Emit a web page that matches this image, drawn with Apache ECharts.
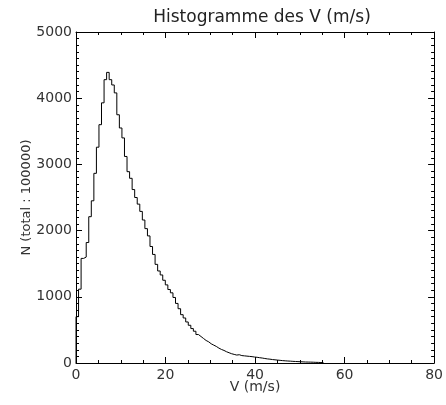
<!DOCTYPE html>
<html>
<head>
<meta charset="utf-8">
<script src="https://cdn.jsdelivr.net/npm/echarts@6/dist/echarts.min.js"></script>
<style>
html,body{margin:0;padding:0;background:#fff;}
#chart{width:446px;height:405px;}
</style>
</head>
<body>
<div id="chart"></div>
<script>
// Histogram of V (m/s), bin width ~0.57 m/s, starting at 0
const binWidth = 0.57;
const counts = [
  700, 1115, 1580, 1600, 1820, 2210, 2450, 2865, 3260, 3600,
  3930, 4280, 4390, 4280, 4200, 4080, 3750, 3550, 3400, 3120,
  2890, 2790, 2620, 2500, 2400, 2290, 2160, 2030, 1920, 1760,
  1640, 1490, 1390, 1330, 1250, 1180, 1110, 1060, 990, 900,
  820, 730, 680, 620, 570, 520, 480, 430, 400, 370,
  340, 320, 290, 270, 250, 225, 205, 190, 170, 155,
  140, 130, 120, 125, 112, 108, 104, 100, 96, 90,
  86, 80, 75, 68, 62, 58, 52, 48, 44, 40,
  36, 33, 30, 28, 25, 23, 21, 19, 17, 15,
  14, 13, 12, 10, 9, 7, 5
];
const xTicks = [0, 20, 40, 60, 80];
const yTicks = [0, 1000, 2000, 3000, 4000, 5000];
const titleText = 'Histogramme des V (m/s)';
const xName = 'V (m/s)';
const yName = 'N (total : 100000)';

// build step points at bin edges
const pts = [[0, 0]];
counts.forEach((c, k) => pts.push([k * binWidth, c]));
pts.push([counts.length * binWidth, counts[counts.length - 1]]);
pts.push([counts.length * binWidth, 0]);

const font = 'DejaVu Sans';
const lineCol = '#000';
const txtCol = '#333';
function axisBase(showLabels) {
  return {
    axisLine: { show: true, onZero: false, lineStyle: { color: lineCol, width: 1 } },
    axisTick: { show: true, inside: true, length: 6, lineStyle: { color: lineCol } },
    splitLine: { show: false },
    axisLabel: { show: showLabels }
  };
}
const plain = v => String(v);

const chart = echarts.init(document.getElementById('chart'), null, { renderer: 'canvas' });
chart.setOption({
  backgroundColor: '#fff',
  animation: false,
  title: {
    text: titleText,
    left: 257, top: 4, textAlign: 'center',
    textStyle: { fontFamily: font, fontSize: 17, fontWeight: 'normal', color: '#222' }
  },
  grid: { left: 76, right: 7, top: 32, bottom: 42, containLabel: false },
  xAxis: [
    Object.assign(axisBase(true), {
      type: 'value', position: 'bottom', min: xTicks[0], max: xTicks[xTicks.length - 1], interval: 20,
      name: xName, nameLocation: 'middle', nameGap: 17, nameMoveOverlap: false,
      nameTextStyle: { fontFamily: font, fontSize: 14, color: txtCol },
      minorTick: { show: true, splitNumber: 4, length: 3, lineStyle: { color: lineCol } },
      axisLabel: { show: true, color: txtCol, fontFamily: font, fontSize: 14, margin: 5, formatter: plain }
    }),
    Object.assign(axisBase(false), {
      type: 'value', position: 'top', min: xTicks[0], max: xTicks[xTicks.length - 1], interval: 20,
      minorTick: { show: true, splitNumber: 4, length: 3, lineStyle: { color: lineCol } }
    })
  ],
  yAxis: [
    Object.assign(axisBase(true), {
      type: 'value', position: 'left', min: yTicks[0], max: yTicks[yTicks.length - 1], interval: 1000,
      name: yName, nameLocation: 'middle', nameGap: 43, nameRotate: 90, nameMoveOverlap: false,
      nameTextStyle: { fontFamily: font, fontSize: 13, color: txtCol },
      minorTick: { show: true, splitNumber: 10, length: 3, lineStyle: { color: lineCol } },
      axisLabel: { show: true, color: txtCol, fontFamily: font, fontSize: 14, margin: 4, formatter: plain }
    }),
    Object.assign(axisBase(false), {
      type: 'value', position: 'right', min: yTicks[0], max: yTicks[yTicks.length - 1], interval: 1000,
      minorTick: { show: true, splitNumber: 10, length: 3, lineStyle: { color: lineCol } }
    })
  ],
  series: [{
    type: 'line',
    xAxisIndex: 0, yAxisIndex: 0,
    step: 'end',
    data: pts,
    symbol: 'none',
    lineStyle: { color: '#000', width: 1 },
    silent: true
  }]
});
</script>
</body>
</html>
